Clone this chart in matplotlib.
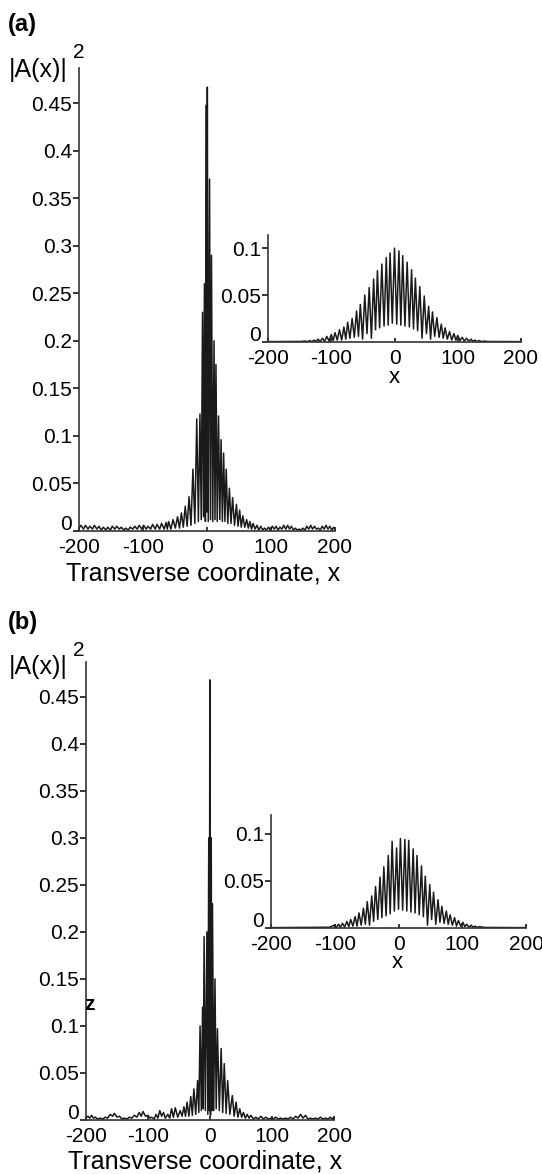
import matplotlib
matplotlib.use("Agg")
from matplotlib import pyplot as plt
from matplotlib.transforms import ScaledTranslation

plt.rcParams['font.family'] = ['Liberation Sans', 'DejaVu Sans']
plt.rcParams['axes.unicode_minus'] = False

# panel (a), main trace: polyline vertices
xa = [-200, -197, -193, -190, -186, -183, -179, -176, -172, -169, -165, -162, -158, -155,
      -151, -148, -144, -141, -137, -134, -130, -127, -123, -120, -116, -113, -109, -106,
      -102, -99, -95, -92, -88, -85, -81, -78, -74, -71, -67, -64, -62,
      -60, -56.5, -53, -49.5, -46, -43, -40, -37, -34, -31, -28, -25, -22, -19, -16, -13.5,
      -11, -9, -7, -5.5, -4, -2.5, -1, -0.3, 0.5, 2, 4, 5.5, 7, 9, 11, 12.5, 14, 16, 18, 20,
      22, 24, 26, 28, 30, 32.5, 35, 37.5, 40, 43, 46, 48.5, 51, 53.5, 56, 59, 62, 64.5, 67,
      69.5, 72, 75, 78, 81, 84, 87, 90, 93, 96, 99, 102, 105, 108, 111, 114, 117, 120, 123,
      126, 129, 132, 135, 138, 141, 144, 147, 150, 153, 156, 159, 162, 165, 168, 171, 174,
      177, 180, 183, 186, 189, 192, 195, 198, 200]
ya = [0.003, 0.006, 0.002, 0.006, 0.002, 0.005, 0.002, 0.006, 0.002, 0.005, 0.001, 0.004, 0.001, 0.004,
      0.001, 0.005, 0.002, 0.005, 0.002, 0.004, 0.001, 0.003, 0.001, 0.004, 0.002, 0.005, 0.002, 0.006,
      0.002, 0.006, 0.002, 0.005, 0.002, 0.007, 0.002, 0.007, 0.002, 0.008, 0.002, 0.009, 0.002,
      0.010, 0.002, 0.012, 0.003, 0.015, 0.003, 0.019, 0.004, 0.026, 0.005, 0.036, 0.006, 0.065, 0.008, 0.118, 0.010,
      0.123, 0.012, 0.230, 0.015, 0.260, 0.010, 0.448, 0.020, 0.467, 0.010, 0.370, 0.012, 0.290, 0.010, 0.200, 0.012, 0.175, 0.010, 0.121, 0.012,
      0.096, 0.010, 0.082, 0.010, 0.065, 0.008, 0.045, 0.008, 0.035, 0.006, 0.028, 0.005, 0.022, 0.004, 0.016, 0.004, 0.012, 0.003, 0.010,
      0.002, 0.008, 0.002, 0.006, 0.001, 0.005, 0.001, 0.003, 0.001, 0.004, 0.001, 0.005, 0.002, 0.005, 0.001, 0.004, 0.002, 0.006, 0.002,
      0.006, 0.002, 0.005, 0.001, 0.003, 0.001, 0.002, 0.001, 0.003, 0.001, 0.005, 0.002, 0.006, 0.002, 0.005, 0.002, 0.003,
      0.001, 0.005, 0.002, 0.006, 0.002, 0.005, 0.001, 0.004, 0.002]

# panel (a), inset
xai = [-200, -148, -141, -137.5, -134, -130.5, -127, -124, -121, -117.5, -114, -110.5, -107, -103.5,
       -100, -97, -94, -90.5, -87, -83.5, -80, -77, -74, -70.5, -67, -63.5, -60, -57, -54, -50.5,
       -47, -43.5, -40, -36.5, -33, -30, -27, -23.5, -20, -16.5, -13, -10, -7, -3.5, 0, 3.5, 7, 10,
       13, 16.5, 20, 23.5, 27, 30, 33, 36.5, 40, 43.5, 47, 50.5, 54, 57, 60, 63.5, 67, 70.5, 74, 77,
       80, 83.5, 87, 90.5, 94, 97, 100, 103.5, 107, 110.5, 114, 117.5, 121, 124, 127, 130.5, 134,
       137.5, 141, 148, 200]
yai = [0.0004, 0.0006, 0.001, 0.0003, 0.0015, 0.0004, 0.002, 0.0005, 0.003, 0.0006, 0.004, 0.0008, 0.006, 0.001,
       0.008, 0.0015, 0.010, 0.002, 0.013, 0.002, 0.016, 0.003, 0.021, 0.004, 0.025, 0.005, 0.033, 0.006, 0.040, 0.003,
       0.050, 0.009, 0.058, 0.004, 0.067, 0.013, 0.076, 0.015, 0.083, 0.017, 0.090, 0.018, 0.095, 0.020, 0.100, 0.019, 0.097, 0.018,
       0.092, 0.017, 0.085, 0.016, 0.077, 0.014, 0.068, 0.012, 0.059, 0.004, 0.049, 0.009, 0.038, 0.003, 0.032, 0.006, 0.026, 0.005, 0.019, 0.004,
       0.015, 0.003, 0.011, 0.002, 0.009, 0.002, 0.007, 0.0015, 0.005, 0.001, 0.004, 0.0008, 0.003, 0.0006, 0.002, 0.0005, 0.0015,
       0.0004, 0.001, 0.0005, 0.0004]

# panel (b), main trace
xb = [-200, -197, -194, -191, -188, -185, -181, -177, -173, -169, -165, -161, -157, -154, -150, -146,
      -142, -138, -134, -130, -126, -122, -118, -114, -111, -108, -104, -100, -97, -94, -90, -87, -84,
      -81, -78, -75, -72, -68, -65, -62, -59, -56, -52, -48, -45, -42, -39.5, -37, -34, -31, -28.5,
      -26, -23, -20, -18, -16, -14, -12, -11, -9.5, -7.5, -5, -3.5, -2, -1, -0.3, 0.8, 2, 3, 4, 6,
      8, 10, 12, 15, 18, 20.5, 23, 26, 28.5, 32, 36, 39, 42, 45, 48, 51, 54, 57, 60, 63, 66, 70, 74,
      78, 82, 86, 90, 94, 98, 102, 106, 110, 114, 118, 122, 126, 130, 134, 138, 142, 146, 150, 154,
      158, 162, 166, 170, 174, 178, 182, 186, 190, 194, 197, 200]
yb = [0.002, 0.004, 0.002, 0.005, 0.002, 0.003, 0.001, 0.002, 0.001, 0.003, 0.002, 0.006, 0.004, 0.007, 0.003, 0.004,
      0.001, 0.002, 0.001, 0.003, 0.002, 0.005, 0.003, 0.008, 0.004, 0.009, 0.004, 0.005, 0.002, 0.003, 0.001, 0.006, 0.002,
      0.010, 0.004, 0.008, 0.002, 0.006, 0.002, 0.012, 0.003, 0.013, 0.003, 0.010, 0.004, 0.014, 0.004, 0.019, 0.004, 0.025, 0.005,
      0.033, 0.006, 0.042, 0.008, 0.100, 0.010, 0.120, 0.012, 0.195, 0.010, 0.200, 0.006, 0.300, 0.010, 0.468, 0.005, 0.300, 0.010, 0.230, 0.010,
      0.150, 0.012, 0.097, 0.010, 0.076, 0.008, 0.060, 0.007, 0.042, 0.006, 0.026, 0.004, 0.019, 0.003, 0.012, 0.003, 0.008, 0.002, 0.006, 0.002, 0.005, 0.001, 0.003,
      0.001, 0.004, 0.001, 0.003, 0.001, 0.002, 0.001, 0.003, 0.001, 0.002, 0.001, 0.002, 0.001, 0.003, 0.001, 0.004, 0.002, 0.006, 0.002, 0.005,
      0.001, 0.002, 0.001, 0.002, 0.001, 0.003, 0.001, 0.002, 0.001, 0.003, 0.001, 0.003]

# panel (b), inset
xbi = [-200, -108, -101, -97.5, -94, -91, -88, -84.5, -81, -78, -75, -71.5, -68, -65, -62, -58.5,
       -55, -52, -49, -45.5, -42, -39, -36, -32.5, -29, -26, -23, -19.5, -16, -13, -10, -6.5, -3, 0,
       3, 6.5, 10, 13, 16, 19.5, 23, 26, 29, 32.5, 36, 39, 42, 45.5, 49, 52, 55, 58.5, 62, 65, 68,
       71.5, 75, 78, 81, 84.5, 88, 91, 94, 97.5, 101, 104, 107, 110.5, 114, 117, 120, 123.5, 127,
       135, 200]
ybi = [0.0004, 0.0008, 0.003, 0.0005, 0.004, 0.0008, 0.005, 0.001, 0.007, 0.0015, 0.009, 0.002, 0.012, 0.002, 0.016, 0.003,
       0.021, 0.004, 0.028, 0.003, 0.034, 0.007, 0.044, 0.009, 0.054, 0.011, 0.065, 0.013, 0.077, 0.015, 0.092, 0.018, 0.085, 0.020,
       0.095, 0.019, 0.094, 0.018, 0.093, 0.017, 0.084, 0.016, 0.077, 0.014, 0.066, 0.012, 0.055, 0.003, 0.046, 0.009, 0.038, 0.004, 0.030, 0.006, 0.023,
       0.005, 0.018, 0.004, 0.014, 0.003, 0.011, 0.002, 0.008, 0.002, 0.006, 0.0015, 0.004, 0.001, 0.003, 0.0008, 0.002, 0.0005, 0.0015,
       0.0006, 0.0004]

main_yticks = [0, 0.05, 0.1, 0.15, 0.2, 0.25, 0.3, 0.35, 0.4, 0.45]
main_ylabels = ['0', '0.05', '0.1', '0.15', '0.2', '0.25', '0.3', '0.35', '0.4', '0.45']
inset_yticks = [0, 0.05, 0.1]
inset_ylabels = ['0', '0.05', '0.1']
xticks = [-200, -100, 0, 100, 200]
xlabels = ['-200', '-100', '0', '100', '200']

W, H = 542, 1174
fig = plt.figure(figsize=(W / 100, H / 100), dpi=100)


def box(left, right, top, bottom):
    return [left / W, 1 - bottom / H, (right - left) / W, (bottom - top) / H]


def style(ax, ymax, yt, yl):
    ax.set_xlim(-200, 200)
    ax.set_ylim(0, ymax)
    ax.set_xticks(xticks, xlabels)
    ax.set_yticks(yt, yl)
    for s in ['top', 'right']:
        ax.spines[s].set_visible(False)
    for s in ['left', 'bottom']:
        ax.spines[s].set_linewidth(1.2)
        ax.spines[s].set_color('#333333')
    ax.tick_params(axis='y', direction='out', length=4, width=1.1, pad=1, labelsize=15)
    ax.tick_params(axis='x', direction='in', length=3, width=1.1, pad=5, labelsize=15)
    ax.patch.set_alpha(0)
    # the "0" on the y axis sits a little above the axis line, as in the original
    lbl = ax.get_yticklabels()[0]
    lbl.set_transform(lbl.get_transform() + ScaledTranslation(0, 6 / 72, fig.dpi_scale_trans))


line_kw = dict(color='#1a1a1a', lw=1.1)

ax1 = fig.add_axes(box(79, 335, 68, 531))
ax1.plot(xa, ya, **line_kw)
style(ax1, 0.487, main_yticks, main_ylabels)

ax2 = fig.add_axes(box(268, 521, 235, 342))
ax2.plot(xai, yai, **line_kw)
style(ax2, 0.114, inset_yticks, inset_ylabels)

ax3 = fig.add_axes(box(86, 334, 662, 1120))
ax3.plot(xb, yb, **line_kw)
style(ax3, 0.487, main_yticks, main_ylabels)

ax4 = fig.add_axes(box(271, 526, 815, 928))
ax4.plot(xbi, ybi, **line_kw)
style(ax4, 0.12, inset_yticks, inset_ylabels)


def t(x, y, s, **kw):
    fig.text(x / W, 1 - y / H, s, **kw)


t(8, 25, '(a)', fontsize=17, fontweight='bold', va='center', ha='left')
t(9, 70, '|A(x)|', fontsize=18, va='center', ha='left')
t(73, 53, '2', fontsize=15, va='center', ha='left')
t(203, 574, 'Transverse coordinate, x', fontsize=18, va='center', ha='center')
t(394, 378, 'x', fontsize=16, va='center', ha='center')

t(8, 622, '(b)', fontsize=17, fontweight='bold', va='center', ha='left')
t(9, 667, '|A(x)|', fontsize=18, va='center', ha='left')
t(73, 650, '2', fontsize=15, va='center', ha='left')
t(205, 1162, 'Transverse coordinate, x', fontsize=18, va='center', ha='center')
t(397, 963, 'x', fontsize=16, va='center', ha='center')
t(89, 1005, 'z', fontsize=15, fontweight='bold', va='center', ha='center')

fig.savefig('out.png', dpi=100)
